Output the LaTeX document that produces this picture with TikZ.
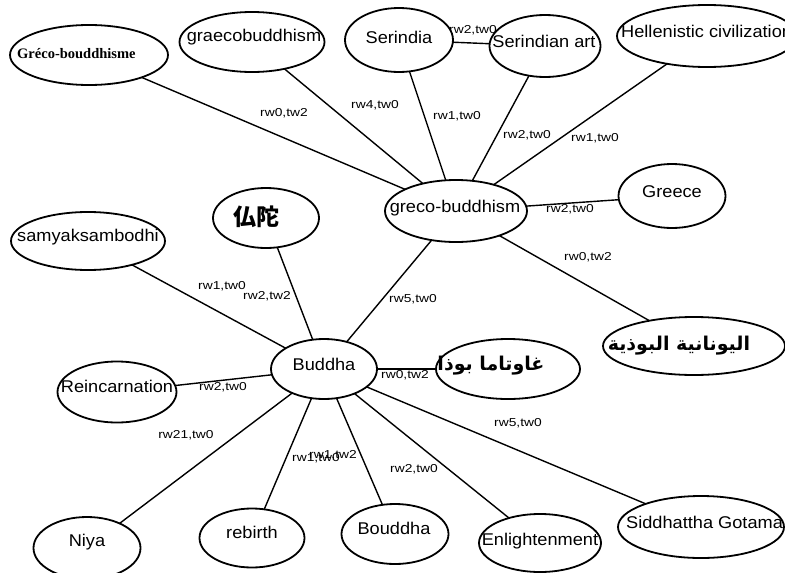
\documentclass[tikz,border=0pt]{standalone}
\usepackage{fontspec}
\setmainfont{Liberation Sans}
\newfontfamily\nodefont[FakeStretch=1.07]{Liberation Sans}
\newfontfamily\weightfont[FakeStretch=1.2]{Liberation Sans}
\newfontfamily\seriffont{Liberation Serif}
\newfontfamily\cjkfont{Noto Sans CJK JP}
\newfontfamily\arabicfont[Script=Arabic]{DejaVu Sans}
\TeXXeTstate=1
\usetikzlibrary{shapes.geometric,backgrounds}

\tikzset{
  bubble/.style args={#1/#2}{ellipse, draw=black, line width=1.8pt, fill=white,
    minimum width=#1pt, minimum height=#2pt, inner sep=0pt},
  term/.style={font=\nodefont\fontsize{17}{17}\selectfont, inner sep=0pt, text=black},
  arterm/.style={font=\arabicfont\bfseries\fontsize{19}{19}\selectfont, inner sep=0pt, text=black},
  weight/.style={font=\weightfont\fontsize{11.5}{11.5}\selectfont, inner sep=0pt, text=black},
  edgeline/.style={line width=1.4pt, draw=black},
}

\begin{document}
\begin{tikzpicture}[x=1pt,y=-1pt]
\useasboundingbox (0,0) rectangle (785,573);

% concept bubbles
\node[bubble=158/60] (gbfr) at (89,55) {};
\node[bubble=145/60] (graeco) at (252,42) {};
\node[bubble=108/64] (serindia) at (399,40) {};
\node[bubble=111/62] (serart) at (545,46) {};
\node[bubble=180/62] (hellen) at (707,36) {};
\node[bubble=142/62] (greco) at (456,211) {};
\node[bubble=107/64] (greece) at (672,196) {};
\node[bubble=106/60] (butsuda) at (266,218) {};
\node[bubble=154/58] (samyak) at (88,241) {};
\node[bubble=106/60] (buddha) at (324,369) {};
\node[bubble=144/60] (gautamaar) at (508,369) {};
\node[bubble=182/58] (grecoar) at (694,346) {};
\node[bubble=119/61] (reinc) at (117,392) {};
\node[bubble=107/62] (niya) at (87,548) {};
\node[bubble=105/59] (rebirth) at (252,538) {};
\node[bubble=107/60] (bouddha) at (395,534) {};
\node[bubble=122/58] (enlight) at (540,543) {};
\node[bubble=166/62] (siddh) at (701,527) {};

% bubble texts
\node[inner sep=0pt, anchor=west, font=\seriffont\bfseries\fontsize{14.5}{14.5}\selectfont] (gbfr-t) at (17,54) {Gréco-bouddhisme};
\node[term] (graeco-t) at (254,37) {graecobuddhism};
\node[term] (serindia-t) at (399,37) {Serindia};
\node[term] (serart-t) at (544,41) {Serindian art};
\node[term, anchor=west] (hellen-t) at (621,31) {Hellenistic civilization};
\node[term] (greco-t) at (455,208) {greco-buddhism};
\node[term] (greece-t) at (672,192) {Greece};
\node[inner sep=0pt, font=\cjkfont\bfseries\fontsize{23}{23}\selectfont] (butsuda-t) at (256,217) {仏陀};
\node[term] (samyak-t) at (88,237) {samyaksambodhi};
\node[term] (buddha-t) at (324,364) {Buddha};
\node[arterm] (gautamaar-t) at (491,366) {\beginR غاوتاما بوذا\endR};
\node[arterm] (grecoar-t) at (679,346) {\beginR اليونانية البوذية\endR};
\node[term] (reinc-t) at (117,386) {Reincarnation};
\node[term] (niya-t) at (87,542) {Niya};
\node[term] (rebirth-t) at (252,532) {rebirth};
\node[term] (bouddha-t) at (394,528) {Bouddha};
\node[term] (enlight-t) at (540,541) {Enlightenment};
\node[term, anchor=west] (siddh-t) at (626,522) {Siddhattha Gotama};

% connectors with their weights, kept behind the bubbles
\begin{scope}[on background layer]
\draw[edgeline] (greco.center) -- (gbfr.center);
\draw[edgeline] (greco.center) -- (graeco.center);
\draw[edgeline] (greco.center) -- (serindia.center);
\draw[edgeline] (greco.center) -- (serart.center);
\draw[edgeline] (greco.center) -- (hellen.center);
\draw[edgeline] (serindia.center) -- (serart.center);
\draw[edgeline] (greco.center) -- (greece.center);
\draw[edgeline] (greco.center) -- (grecoar.center);
\draw[edgeline] (buddha.center) -- (greco.center);
\draw[edgeline] (buddha.center) -- (samyak.center);
\draw[edgeline] (buddha.center) -- (butsuda.center);
\draw[edgeline] (buddha.center) -- (gautamaar.center);
\draw[edgeline] (buddha.center) -- (reinc.center);
\draw[edgeline] (buddha.center) -- (niya.center);
\draw[edgeline] (buddha.center) -- (rebirth.center);
\draw[edgeline] (buddha.center) -- (bouddha.center);
\draw[edgeline] (buddha.center) -- (enlight.center);
\draw[edgeline] (buddha.center) -- (siddh.center);

\node[weight] (w1) at (284,113) {rw0,tw2};
\node[weight] (w2) at (375,105) {rw4,tw0};
\node[weight] (w3) at (457,116) {rw1,tw0};
\node[weight] (w4) at (527,135) {rw2,tw0};
\node[weight] (w5) at (595,138) {rw1,tw0};
\node[weight] (w6) at (473,30) {rw2,tw0};
\node[weight] (w7) at (570,209) {rw2,tw0};
\node[weight] (w8) at (588,257) {rw0,tw2};
\node[weight] (w9) at (413,299) {rw5,tw0};
\node[weight] (w10) at (222,286) {rw1,tw0};
\node[weight] (w11) at (267,296) {rw2,tw2};
\node[weight] (w12) at (405,375) {rw0,tw2};
\node[weight] (w13) at (223,387) {rw2,tw0};
\node[weight] (w14) at (186,435) {rw21,tw0};
\node[weight] (w15) at (316,458) {rw1,tw0};
\node[weight] (w16) at (333,455) {rw1,tw2};
\node[weight] (w17) at (414,469) {rw2,tw0};
\node[weight] (w18) at (518,423) {rw5,tw0};
\end{scope}
\end{tikzpicture}
\end{document}
